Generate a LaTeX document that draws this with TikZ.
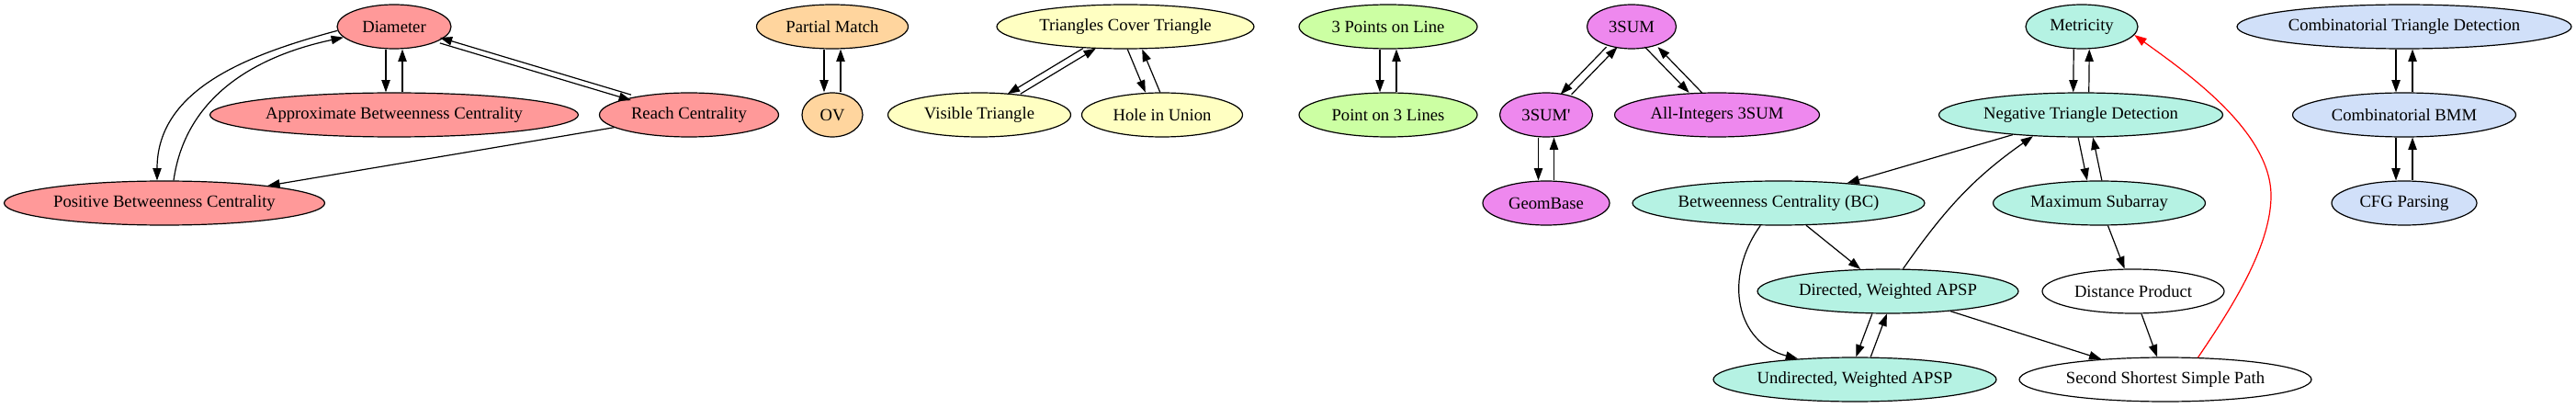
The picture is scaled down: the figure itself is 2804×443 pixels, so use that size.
\documentclass[tikz,border=0pt]{standalone}
\usepackage{fontspec}
\setmainfont{Liberation Serif}[Ligatures=TeXOff]
\usetikzlibrary{arrows.meta,calc,shapes.geometric}
\definecolor{cred}{HTML}{FF9999}
\definecolor{corange}{HTML}{FFD59E}
\definecolor{cyellow}{HTML}{FFFFC2}
\definecolor{cgreen}{HTML}{CCFFA3}
\definecolor{cmag}{HTML}{EE88EE}
\definecolor{cteal}{HTML}{B5F2E3}
\definecolor{cblue}{HTML}{D1E0F9}
\begin{document}
\begin{tikzpicture}[x=0.75pt,y=0.75pt,
  nd/.style={ellipse, draw=black, line width=0.9pt, inner sep=0pt, minimum height=36pt,
             font=\fontsize{14pt}{16pt}\selectfont},
  e/.style={draw=black, line width=0.9pt, -{Triangle[length=10pt,width=7pt]}},
  pl/.style={transform canvas={xshift=-#1}},
  pr/.style={transform canvas={xshift=#1}}]
\fill[white] (0,0) rectangle (2804,443);
\useasboundingbox (0,0) rectangle (2804,443);

% red group
\node[nd, fill=cred, minimum width=93pt]     (diam)  at (429,414) {Diameter};
\node[nd, fill=cred, minimum width=300.75pt] (abc)   at (429,318) {Approximate Betweenness Centrality};
\node[nd, fill=cred, minimum width=146.25pt] (reach) at (750,318) {Reach Centrality};
\node[nd, fill=cred, minimum width=261.75pt] (pbc)   at (179,222) {Positive Betweenness Centrality};
% orange
\node[nd, fill=corange, minimum width=123.75pt] (pm) at (906,414) {Partial Match};
\node[nd, fill=corange, minimum width=49.5pt]   (ov) at (906,318) {OV};
% yellow
\node[nd, fill=cyellow, minimum width=210pt]    (tct)  at (1225,414) {Triangles Cover Triangle};
\node[nd, fill=cyellow, minimum width=149.25pt] (vis)  at (1066,318) {Visible Triangle};
\node[nd, fill=cyellow, minimum width=131.25pt] (hole) at (1265,318) {Hole in Union};
% green
\node[nd, fill=cgreen, minimum width=145.5pt] (p3l) at (1511,414) {3 Points on Line};
\node[nd, fill=cgreen, minimum width=145.5pt] (pol) at (1511,318) {Point on 3 Lines};
% magenta
\node[nd, fill=cmag, minimum width=72.75pt]  (s3)   at (1776,414) {3SUM};
\node[nd, fill=cmag, minimum width=75.75pt]  (s3p)  at (1683,318) {3SUM\char"27};
\node[nd, fill=cmag, minimum width=167.25pt] (ai)   at (1869,318) {All-Integers 3SUM};
\node[nd, fill=cmag, minimum width=103.5pt]  (geom) at (1683,222) {GeomBase};
% teal
\node[nd, fill=cteal, minimum width=91.5pt]   (met) at (2266,414) {Metricity};
\node[nd, fill=cteal, minimum width=231.75pt] (ntd) at (2265,318) {Negative Triangle Detection};
\node[nd, fill=cteal, minimum width=238.5pt]  (bc)  at (1936,222) {Betweenness Centrality (BC)};
\node[nd, fill=cteal, minimum width=173.25pt] (ms)  at (2285,222) {Maximum Subarray};
\node[nd, fill=cteal, minimum width=213pt]    (dir) at (2055,126) {Directed, Weighted APSP};
\node[nd, fill=white, minimum width=148.5pt]  (dp)  at (2322,126) {Distance Product};
\node[nd, fill=cteal, minimum width=231pt]    (und) at (2019,30)  {Undirected, Weighted APSP};
\node[nd, fill=white, minimum width=238.5pt]  (sssp) at (2357,30) {Second Shortest Simple Path};
% blue
\node[nd, fill=cblue, minimum width=273pt]    (ctd)  at (2617,414) {Combinatorial Triangle Detection};
\node[nd, fill=cblue, minimum width=182.25pt] (cbmm) at (2617,318) {Combinatorial BMM};
\node[nd, fill=cblue, minimum width=118.5pt]  (cfg)  at (2617,222) {CFG Parsing};

% red edges
\draw[e, pl=6.75pt] (diam) -- (abc);
\draw[e, pr=6.75pt] (abc) -- (diam);
\draw[e, transform canvas={yshift=-2.25pt}] (diam) -- (reach);
\draw[e, transform canvas={yshift=2.25pt}] (reach) -- (diam);
\draw[e] (diam.184) to[out=195,in=90] ($(pbc.north)+(-8,0)$);
\draw[e] ($(pbc.north)+(10,0)$) to[out=82,in=192] (diam.192);
\draw[e] (reach) -- (pbc);
% orange edges
\draw[e, pl=6.75pt] (pm) -- (ov);
\draw[e, pr=6.75pt] (ov) -- (pm);
% yellow edges
\draw[e, pl=5.25pt] (tct) -- (vis);
\draw[e, pr=5.25pt] (vis) -- (tct);
\draw[e, pl=6pt] (tct) -- (hole);
\draw[e, pr=6pt] (hole) -- (tct);
% green edges
\draw[e, pl=6.75pt] (p3l) -- (pol);
\draw[e, pr=6.75pt] (pol) -- (p3l);
% magenta edges
\draw[e, pl=4.5pt] (s3) -- (s3p);
\draw[e, pr=4.5pt] (s3p) -- (s3);
\draw[e, pl=5.25pt] (s3) -- (ai);
\draw[e, pr=5.25pt] (ai) -- (s3);
\draw[e, pl=6.375pt] (s3p) -- (geom);
\draw[e, pr=6.375pt] (geom) -- (s3p);
% teal edges
\draw[e, pl=6.375pt] (met) -- (ntd);
\draw[e, pr=6.375pt] (ntd) -- (met);
\draw[e] (ntd) -- (bc);
\draw[e, pl=6pt] (ntd) -- (ms);
\draw[e, pr=6pt] (ms) -- (ntd);
\draw[e] (bc) -- (dir);
\draw[e] (bc.231) .. controls (1875,140) and (1890,70) .. (und.160);
\draw[e] (dir.56) to[out=55,in=215] (ntd.204);
\draw[e] (dir) -- (sssp);
\draw[e, pl=6pt] (dir) -- (und);
\draw[e, pr=6pt] (und) -- (dir);
\draw[e] (ms) -- (dp);
\draw[e] (dp) -- (sssp);
\draw[e, draw=red] (sssp.34) .. controls (2420,95) and (2472,170) .. (2472,230)
   .. controls (2472,300) and (2380,364) .. (met.351);
% blue edges
\draw[e, pl=6.75pt] (ctd) -- (cbmm);
\draw[e, pr=6.75pt] (cbmm) -- (ctd);
\draw[e, pl=6.75pt] (cbmm) -- (cfg);
\draw[e, pr=6.75pt] (cfg) -- (cbmm);
\end{tikzpicture}
\end{document}
